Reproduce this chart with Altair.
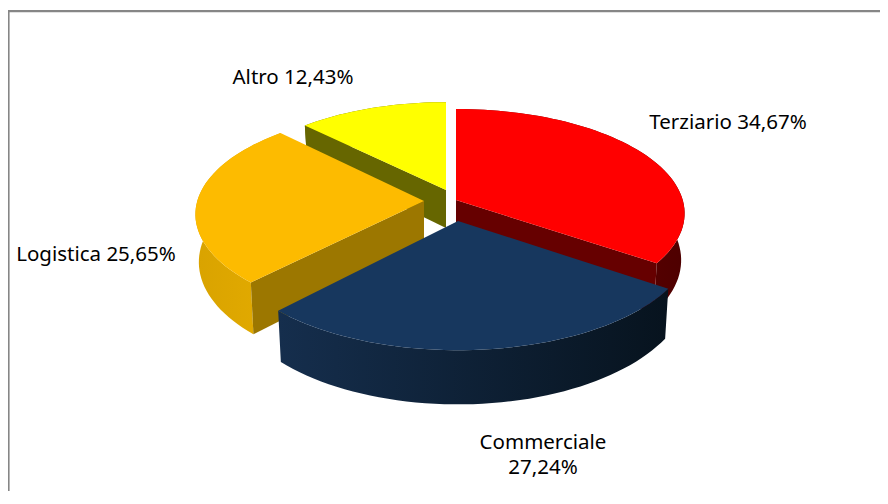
import math
import altair as alt
import pandas as pd

# ---- chart values ----
categories = ["Terziario", "Commerciale", "Logistica", "Altro"]
shares = [34.67, 27.24, 25.65, 12.43]
label_texts = ["Terziario 34,67%", "Commerciale\n27,24%", "Logistica 25,65%", "Altro 12,43%"]

# ---- styling ----
top_colors = ["#ff0000", "#17375e", "#fdbb00", "#ffff00"]
radial_colors = ["#660000", None, "#9c7700", "#666600"]
rim_stops = [
    ("#7a0000", "#4e0000"),
    ("#152e4d", "#07131e"),
    ("#d9a300", "#e4ac00"),
    ("#666600", "#666600"),
]
# which end of each slice shows a radial wall: 0 = start angle, 1 = end angle
wall_end = [1, None, 0, 0]

# ---- layout of the exploded, tilted view (pixels in the frame's own scale) ----
W, H = 872, 483
OX, OY = 8, 8
apex = [(456, 200), (458, 221), (424, 201), (446, 190)]
scale_by_slice = [0.99, 1.01, 0.99, 0.955]
tilt_by_slice = [0.453, 0.4635, 0.453, 0.453]
persp_by_slice = [0.128, 0.17, 0.128, 0.128]
depth_by_slice = [46, 45, 47, 38]
turn_by_slice = [0.0, 0.0, 1.0, 0.0]
R, CONVERGE = 229.0, 0.985
STEP_DEG = 2.0
label_at = [(728, 123), (543, 443), (96, 255), (293, 78)]
# draw order, back to front
order_back_to_front = [3, 0, 2, 1]

x_scale = alt.Scale(domain=[0, W], range=[0, W], nice=False, zero=False)
y_scale = alt.Scale(domain=[0, H], range=[0, H], nice=False, zero=False)
X = alt.X("x:Q", scale=x_scale, axis=None)
Y = alt.Y("y:Q", scale=y_scale, axis=None)


def project(i, theta):
    theta = theta + math.radians(turn_by_slice[i])
    u, v = math.sin(theta), math.cos(theta)
    f = 1.0 / (1.0 + persp_by_slice[i] * v)
    r = R * scale_by_slice[i]
    return apex[i][0] + r * u * f, apex[i][1] - tilt_by_slice[i] * r * v * f, f


def lower(i, p):
    x, y, f = p
    return apex[i][0] + (x - apex[i][0]) * CONVERGE, y + depth_by_slice[i] * f


def arc_points(i, a0, a1):
    n = max(2, int(abs(a1 - a0) * 180 / math.pi / STEP_DEG))
    return [project(i, a0 + (a1 - a0) * k / n) for k in range(n + 1)]


def poly(points, fill):
    df = pd.DataFrame(
        {"x": [p[0] - OX for p in points], "y": [p[1] - OY for p in points], "n": list(range(len(points)))}
    )
    return (
        alt.Chart(df)
        .mark_line(fill=fill, strokeWidth=0, interpolate="linear")
        .encode(x=X, y=Y, order=alt.Order("n:Q"))
    )


def hgrad(c0, c1):
    return alt.Gradient(
        gradient="linear",
        stops=[alt.GradientStop(color=c0, offset=0), alt.GradientStop(color=c1, offset=1)],
        x1=0, x2=1, y1=0, y2=0,
    )


total = sum(shares)
starts, acc = [], 0.0
for s in shares:
    starts.append((acc / total * 2 * math.pi, (acc + s) / total * 2 * math.pi))
    acc += s

layers = []

# frame: only the left and top edges fall inside the picture
frame = pd.DataFrame({"x": [0, 0], "x2": [1.6, W], "y": [2, 2], "y2": [H, 4.2]})
layers.append(
    alt.Chart(frame)
    .mark_rect(color="#868686", strokeWidth=0)
    .encode(x=X, x2="x2:Q", y=Y, y2="y2:Q")
)

for i in order_back_to_front:
    a0, a1 = starts[i]
    arc = arc_points(i, a0, a1)
    cx, cy = apex[i]
    c = (cx, cy, 1.0)
    # outer rim
    rim = [(p[0], p[1]) for p in arc] + [lower(i, p) for p in reversed(arc)]
    layers.append(poly(rim, hgrad(*rim_stops[i])))
    # radial wall that faces the viewer
    if wall_end[i] is not None:
        edge = arc[-1] if wall_end[i] == 1 else arc[0]
        wall = [(cx, cy), (edge[0], edge[1]), lower(i, edge), lower(i, c)]
        layers.append(poly(wall, radial_colors[i]))
    # top face
    top = [(cx, cy)] + [(p[0], p[1]) for p in arc]
    layers.append(poly(top, top_colors[i]))

labels = pd.DataFrame(
    {
        "x": [p[0] - OX for p in label_at],
        "y": [p[1] - OY for p in label_at],
        "t": label_texts,
    }
)
layers.append(
    alt.Chart(labels)
    .mark_text(font="Noto Sans", fontSize=20.5, color="#000000", lineBreak="\n", lineHeight=25, align="center", baseline="middle")
    .encode(x=X, y=Y, text="t:N")
)

chart = (
    alt.layer(*layers)
    .properties(width=W, height=H, padding=0, background="white")
    .configure_view(stroke=None)
)
chart.save("out.html", embed_options={"renderer": "svg", "actions": False})
